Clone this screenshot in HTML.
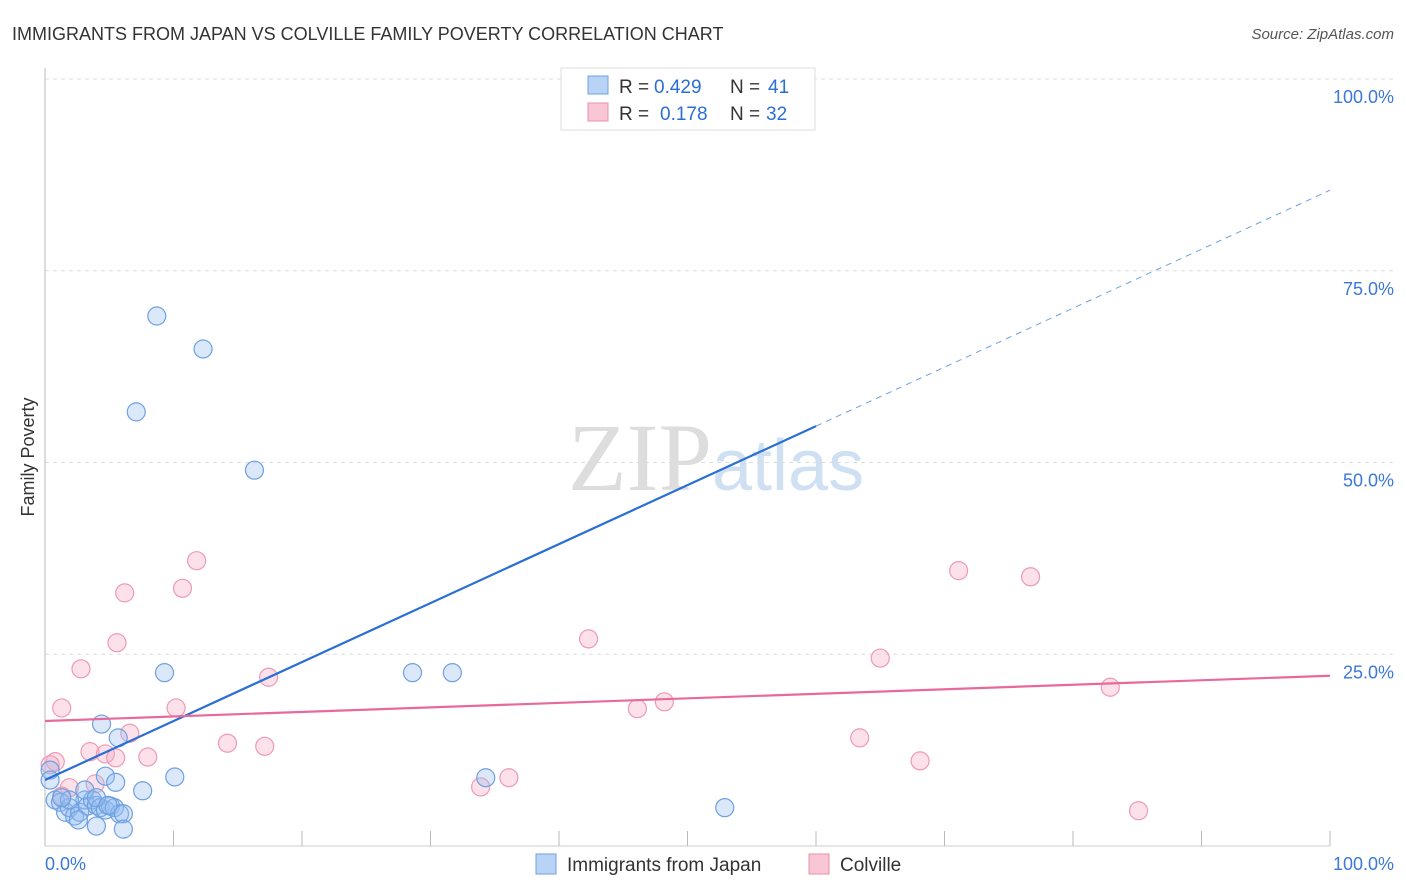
<!DOCTYPE html>
<html><head><meta charset="utf-8"><style>
body{margin:0;background:#fff;font-family:"Liberation Sans",sans-serif}
svg{display:block}
</style></head><body>
<svg id="c" width="1406" height="892">
<text x="12" y="40" font-size="18" fill="#333">IMMIGRANTS FROM JAPAN VS COLVILLE FAMILY POVERTY CORRELATION CHART</text>
<text x="1394" y="39" font-size="15" fill="#555" font-style="italic" text-anchor="end">Source: ZipAtlas.com</text>
<text x="34" y="457" font-size="18" fill="#333" transform="rotate(-90 34 457)" text-anchor="middle">Family Poverty</text>
<text x="712" y="490" font-size="96" fill="#ddd" text-anchor="end" font-family="Liberation Serif,serif">ZIP</text>
<text x="712" y="490" font-size="72" fill="#cfe0f3">atlas</text>
<g id="grid"></g><g id="marks"></g>
<g>
<rect x="561" y="68" width="254" height="62" fill="#fff" stroke="#ddd"/>
<rect x="588" y="76" width="20" height="18" fill="#b8d3f5" stroke="#6fa0e0"/>
<text x="619" y="93" font-size="19" fill="#333">R =</text>
<text x="654" y="93" font-size="19" fill="#2a6ed6">0.429</text>
<text x="730" y="93" font-size="19" fill="#333">N =</text>
<text x="768" y="93" font-size="19" fill="#2a6ed6">41</text>
<rect x="588" y="103" width="20" height="18" fill="#f9c6d5" stroke="#ea8fab"/>
<text x="619" y="120" font-size="19" fill="#333">R =</text>
<text x="660" y="120" font-size="19" fill="#2a6ed6">0.178</text>
<text x="730" y="120" font-size="19" fill="#333">N =</text>
<text x="766" y="120" font-size="19" fill="#2a6ed6">32</text>
</g>
<g>
<rect x="536" y="854" width="20" height="20" fill="#b8d3f5" stroke="#6fa0e0"/>
<text x="567" y="871" font-size="19" fill="#333">Immigrants from Japan</text>
<rect x="809" y="854" width="20" height="20" fill="#f9c6d5" stroke="#ea8fab"/>
<text x="840" y="871" font-size="19" fill="#333">Colville</text>
</g>
<text x="45" y="870" font-size="18" fill="#3b78d8">0.0%</text>
<text x="1394" y="870" font-size="18" fill="#3b78d8" text-anchor="end">100.0%</text>
</svg>
<script>
const blueX=[8.7,12.3,7.1,16.3,9.3,28.6,31.7,4.4,5.7,4.7,10.1,5.5,7.6,34.3,52.9,0.4,0.4,0.8,1.2,1.6,1.9,2.3,2.7,3.1,3.3,3.7,4.0,4.3,4.7,5.1,5.4,5.8,6.1,4.0,6.1,2.6,1.9,1.3,3.1,4.0,4.9];
const blueY=[69.1,64.8,56.6,49.0,22.6,22.6,22.6,15.9,14.1,9.1,9.0,8.3,7.2,8.9,5.0,9.9,8.6,6.0,5.7,4.4,5.0,3.9,4.4,6.0,5.2,6.0,5.3,5.0,4.7,5.2,5.0,4.2,4.2,2.6,2.2,3.4,6.0,6.3,7.3,6.3,5.3];
const pinkX=[11.8,10.7,6.2,5.6,2.8,17.4,42.3,71.1,76.7,65.0,82.9,1.3,10.2,46.1,48.2,14.2,17.1,63.4,68.1,6.6,3.5,4.7,5.5,8.0,0.8,0.4,36.1,33.9,85.1,3.9,1.9,1.3];
const pinkY=[37.2,33.6,33.0,26.5,23.1,22.0,27.0,35.9,35.1,24.5,20.7,18.0,18.0,17.9,18.8,13.4,13.0,14.1,11.1,14.7,12.3,12.0,11.5,11.6,11.0,10.6,8.9,7.7,4.6,8.1,7.6,6.5];
const blueTrend=[8.6,85.5];
const pinkTrend=[16.3,22.2];
const yTicks=[25,50,75,100];
const yTickLabels=["25.0%","50.0%","75.0%","100.0%"];
const xTicks=[0,10,20,30,40,50,60,70,80,90,100];
const NS="http://www.w3.org/2000/svg";
const sx=v=>45+v*12.85, sy=v=>846-v*7.67;
function mk(t,a,p){const e=document.createElementNS(NS,t);for(const k in a)e.setAttribute(k,a[k]);p.appendChild(e);return e;}
const g=document.getElementById('grid'),m=document.getElementById('marks');
yTicks.forEach((t,i)=>{
  const l=mk('line',{x1:45,x2:1394,y1:sy(t),y2:sy(t),stroke:'#ddd','stroke-dasharray':'4,4'},g);
  
  
  const tx=mk('text',{x:1394,y:sy(t)+24,'font-size':18,fill:'#3b78d8','text-anchor':'end'},g);
  tx.textContent=yTickLabels[i];
  
  
});
const ax=mk('line',{x1:45,x2:45,y1:68,y2:846,stroke:'#bbb'},g);


const bx=mk('line',{x1:45,x2:1330,y1:846,y2:846,stroke:'#ccc'},g);


xTicks.forEach(t=>{
  const l=mk('line',{x1:sx(t),x2:sx(t),y1:831,y2:846,stroke:'#bbb'},g);
  
  
});
pinkX.forEach((x,i)=>{
  const c=mk('circle',{cx:sx(x),cy:sy(pinkY[i]),r:9,fill:'rgba(246,170,195,0.35)',stroke:'#ee9ab3','stroke-width':1.2},m);
  
  
});
blueX.forEach((x,i)=>{
  const c=mk('circle',{cx:sx(x),cy:sy(blueY[i]),r:9,fill:'rgba(150,190,240,0.35)',stroke:'#6fa0e0','stroke-width':1.2},m);
  
  
});
const by=x=>blueTrend[0]+(blueTrend[1]-blueTrend[0])*x/100;
const t1=mk('line',{x1:sx(0),y1:sy(by(0)),x2:sx(60),y2:sy(by(60)),stroke:'#2a6ed6','stroke-width':2.2},m);


const t2=mk('line',{x1:sx(60),y1:sy(by(60)),x2:sx(100),y2:sy(by(100)),stroke:'#6fa0e0','stroke-width':1,'stroke-dasharray':'6,5'},m);


const t3=mk('line',{x1:sx(0),y1:sy(pinkTrend[0]),x2:sx(100),y2:sy(pinkTrend[1]),stroke:'#e8699a','stroke-width':2.2},m);


</script>
</body></html>
